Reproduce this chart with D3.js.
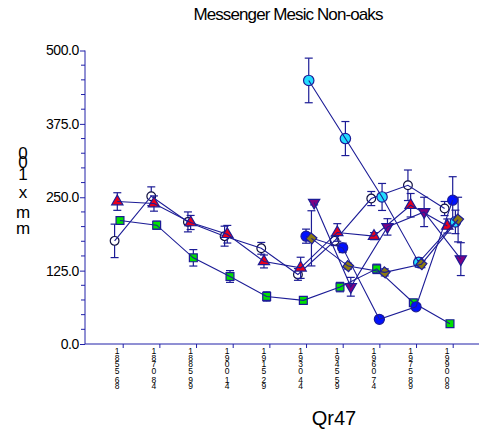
<!DOCTYPE html>
<html>
<head>
<meta charset="utf-8">
<script src="https://cdn.jsdelivr.net/npm/d3@7"></script>
<style>
  html, body { margin: 0; padding: 0; background: #ffffff; }
  svg { display: block; }
  text { font-family: Arial, "Liberation Sans", sans-serif; }
</style>
</head>
<body>
<div id="chart"></div>
<script>
// ---------------- data ----------------
const title = "Messenger Mesic Non-oaks";
const xTitle = "Qr47";
const yTitleChars = ["0", "0", "1", "x", "m", "m"];
const periods = ["1855-68", "1870-84", "1885-99", "1900-14", "1915-29",
                 "1930-44", "1945-59", "1960-74", "1975-89", "1990-08"];
const yTicks = [0, 125, 250, 375, 500];

const openCircle    = [175.7, 251.7, 208.0, 183.7, 163.0, 118.5, 175.7, 247.8, 270.4, 230.8];
const openCircleErr = [28.5, 16, 17, 17, 10, 10, 8, 12, 26, 12];
const redTri        = [242.7, 239.3, 207.0, 187.0, 140.6, 129.8, 190.0, 183.7, 236.4, 201.0];
const redTriErr     = [15, 13, 12, 15, 11, 18, 15, 6, 20, 12];
const greenSq       = [210.4, 202.4, 146.8, 115.0, 81.0, 74.3, 97.0, 128.0, 70.3, 34.6];
const greenSqErr    = [5, 7, 14, 10, 8, 5, 8, 8, 5, 4];
const blueDot       = [null, null, null, null, null, 183.7, 163.8, 42.0, 63.4, 245.0];
const blueDotErr    = [0, 0, 0, 0, 0, 12, 8, 5, 5, 40];
const cyanDot       = [null, null, null, null, null, 449.0, 350.0, 250.5, 139.0, 208.0];
const cyanDotErr    = [0, 0, 0, 0, 0, 38, 29, 23, 8, 20];
const oliveDia      = [null, null, null, null, null, 180.0, 132.7, 122.0, 136.0, 212.0];
const oliveDiaErr   = [0, 0, 0, 0, 0, 47, 5, 6, 6, 38];
const purpleTri     = [null, null, null, null, null, 241.0, 97.5, 199.5, 225.0, 144.6];
const purpleTriErr  = [0, 0, 0, 0, 0, 4, 16, 14, 25, 28];

const series = [
  { name: "open",   values: openCircle, err: openCircleErr, shape: "circle",   fill: "#ffffff", size: 60 },
  { name: "red",    values: redTri,     err: redTriErr,     shape: "triUp",    fill: "#e8001c", size: 55 },
  { name: "green",  values: greenSq,    err: greenSqErr,    shape: "square",   fill: "#00e000", size: 62 },
  { name: "blue",   values: blueDot,    err: blueDotErr,    shape: "circle",   fill: "#0010ff", size: 80 },
  { name: "cyan",   values: cyanDot,    err: cyanDotErr,    shape: "circle",   fill: "#22ddff", size: 85 },
  { name: "olive",  values: oliveDia,   err: oliveDiaErr,   shape: "diamond",  fill: "#8a7a10", size: 60 },
  { name: "purple", values: purpleTri,  err: purpleTriErr,  shape: "triDown",  fill: "#800080", size: 55 }
];

// ---------------- layout ----------------
const W = 481, H = 435;
const navy = "#1c1c96";
const axisCol = "#2020a8";

const svg = d3.select("#chart").append("svg")
  .attr("width", W).attr("height", H);

const x = d3.scalePoint().domain(periods).range([122.7, 452.7]);
const y = d3.scaleLinear().domain([0, 500]).range([344, 50.5]);
const axisLeftX = 85, axisRightX = 479;
const dodgeStep = 2.7;

// title
svg.append("text")
  .attr("x", 288).attr("y", 20)
  .attr("text-anchor", "middle")
  .attr("font-size", 17).attr("letter-spacing", -0.9)
  .attr("fill", "#000")
  .text(title);

// x title
svg.append("text")
  .attr("x", 334).attr("y", 425)
  .attr("text-anchor", "middle")
  .attr("font-size", 20)
  .attr("fill", "#000")
  .text(xTitle);

// y title (stacked characters)
const yTitleBaselines = [159, 168, 180, 198, 218, 234];
svg.append("text")
  .attr("text-anchor", "middle")
  .attr("font-size", 17)
  .attr("fill", "#000")
  .selectAll("tspan").data(yTitleChars).join("tspan")
  .attr("x", 23)
  .attr("y", (d, i) => yTitleBaselines[i])
  .text(d => d);

// y axis
const yAxis = d3.axisLeft(y).tickValues(yTicks).tickFormat(d3.format(".1f")).tickSize(5).tickPadding(1);
const gy = svg.append("g").attr("transform", `translate(${axisLeftX},0)`).call(yAxis);
gy.select(".domain").remove();
gy.selectAll(".tick line").attr("stroke", axisCol);
gy.selectAll(".tick text")
  .attr("font-size", 14).attr("letter-spacing", -0.4)
  .attr("font-family", "Arial, 'Liberation Sans', sans-serif")
  .attr("fill", "#000");
// minor ticks
const minor = d3.range(25, 500, 25).filter(v => v % 125 !== 0);
svg.append("g").selectAll("line").data(minor).join("line")
  .attr("x1", axisLeftX - 4).attr("x2", axisLeftX)
  .attr("y1", d => y(d)).attr("y2", d => y(d))
  .attr("stroke", axisCol);
svg.append("line")
  .attr("x1", axisLeftX).attr("x2", axisLeftX)
  .attr("y1", y(500)).attr("y2", y(0))
  .attr("stroke", axisCol);

// x axis
const xAxis = d3.axisBottom(x).tickSize(4).tickFormat("");
const gx = svg.append("g").attr("transform", `translate(0,${y(0)})`).call(xAxis);
gx.select(".domain").remove();
gx.selectAll(".tick line").attr("stroke", axisCol);
svg.append("line")
  .attr("x1", axisLeftX).attr("x2", axisRightX)
  .attr("y1", y(0)).attr("y2", y(0))
  .attr("stroke", axisCol);

// x tick labels: stacked characters
const charBase = [354, 360.5, 367, 373.5, 382.5, 389];
periods.forEach(p => {
  const parts = p.split("-");
  const chars = (parts[0] + parts[1]).split("");
  svg.append("text")
    .attr("text-anchor", "middle")
    .attr("font-size", 8.5)
    .attr("fill", "#000")
    .selectAll("tspan").data(chars).join("tspan")
    .attr("x", x(p) - 5.5)
    .attr("y", (d, i) => charBase[i])
    .text(d => d);
});

// marker symbols
function symbolPath(shape, size) {
  if (shape === "circle") return d3.symbol(d3.symbolCircle, size)();
  if (shape === "square") return d3.symbol(d3.symbolSquare, size)();
  if (shape === "diamond") return d3.symbol(d3.symbolSquare, size)();
  if (shape === "triUp") return d3.symbol(d3.symbolTriangle, size)();
  if (shape === "triDown") return d3.symbol(d3.symbolTriangle, size)();
  return d3.symbol(d3.symbolCircle, size)();
}
function rotation(shape) {
  if (shape === "diamond") return 40;
  if (shape === "triDown") return 180;
  return 0;
}

const plot = svg.append("g");

series.forEach((s, si) => {
  const off = (si - 3) * dodgeStep;
  const pts = s.values.map((v, i) => ({ v, e: s.err[i], p: periods[i] }))
    .filter(d => d.v !== null);
  const px = d => x(d.p) + off;

  const g = plot.append("g");
  // error bars
  const eb = g.append("g").attr("stroke", navy).attr("stroke-width", 1.2).attr("fill", "none");
  eb.selectAll("line.v").data(pts).join("line").attr("class", "v")
    .attr("x1", px).attr("x2", px)
    .attr("y1", d => y(d.v + d.e)).attr("y2", d => y(d.v - d.e));
  eb.selectAll("line.t").data(pts).join("line").attr("class", "t")
    .attr("x1", d => px(d) - 4).attr("x2", d => px(d) + 4)
    .attr("y1", d => y(d.v + d.e)).attr("y2", d => y(d.v + d.e));
  eb.selectAll("line.b").data(pts).join("line").attr("class", "b")
    .attr("x1", d => px(d) - 4).attr("x2", d => px(d) + 4)
    .attr("y1", d => y(d.v - d.e)).attr("y2", d => y(d.v - d.e));

  // markers
  g.selectAll("path.m").data(pts).join("path").attr("class", "m")
    .attr("d", symbolPath(s.shape, s.size))
    .attr("transform", d => `translate(${px(d)},${y(d.v)}) rotate(${rotation(s.shape)})`)
    .attr("fill", s.fill)
    .attr("stroke", s.name === "open" ? "#101040" : navy)
    .attr("stroke-width", 1.2);

  // connecting line (drawn over markers)
  const line = d3.line().x(px).y(d => y(d.v));
  g.append("path").datum(pts)
    .attr("d", line)
    .attr("fill", "none")
    .attr("stroke", navy)
    .attr("stroke-width", 1.1);
});
</script>
</body>
</html>
